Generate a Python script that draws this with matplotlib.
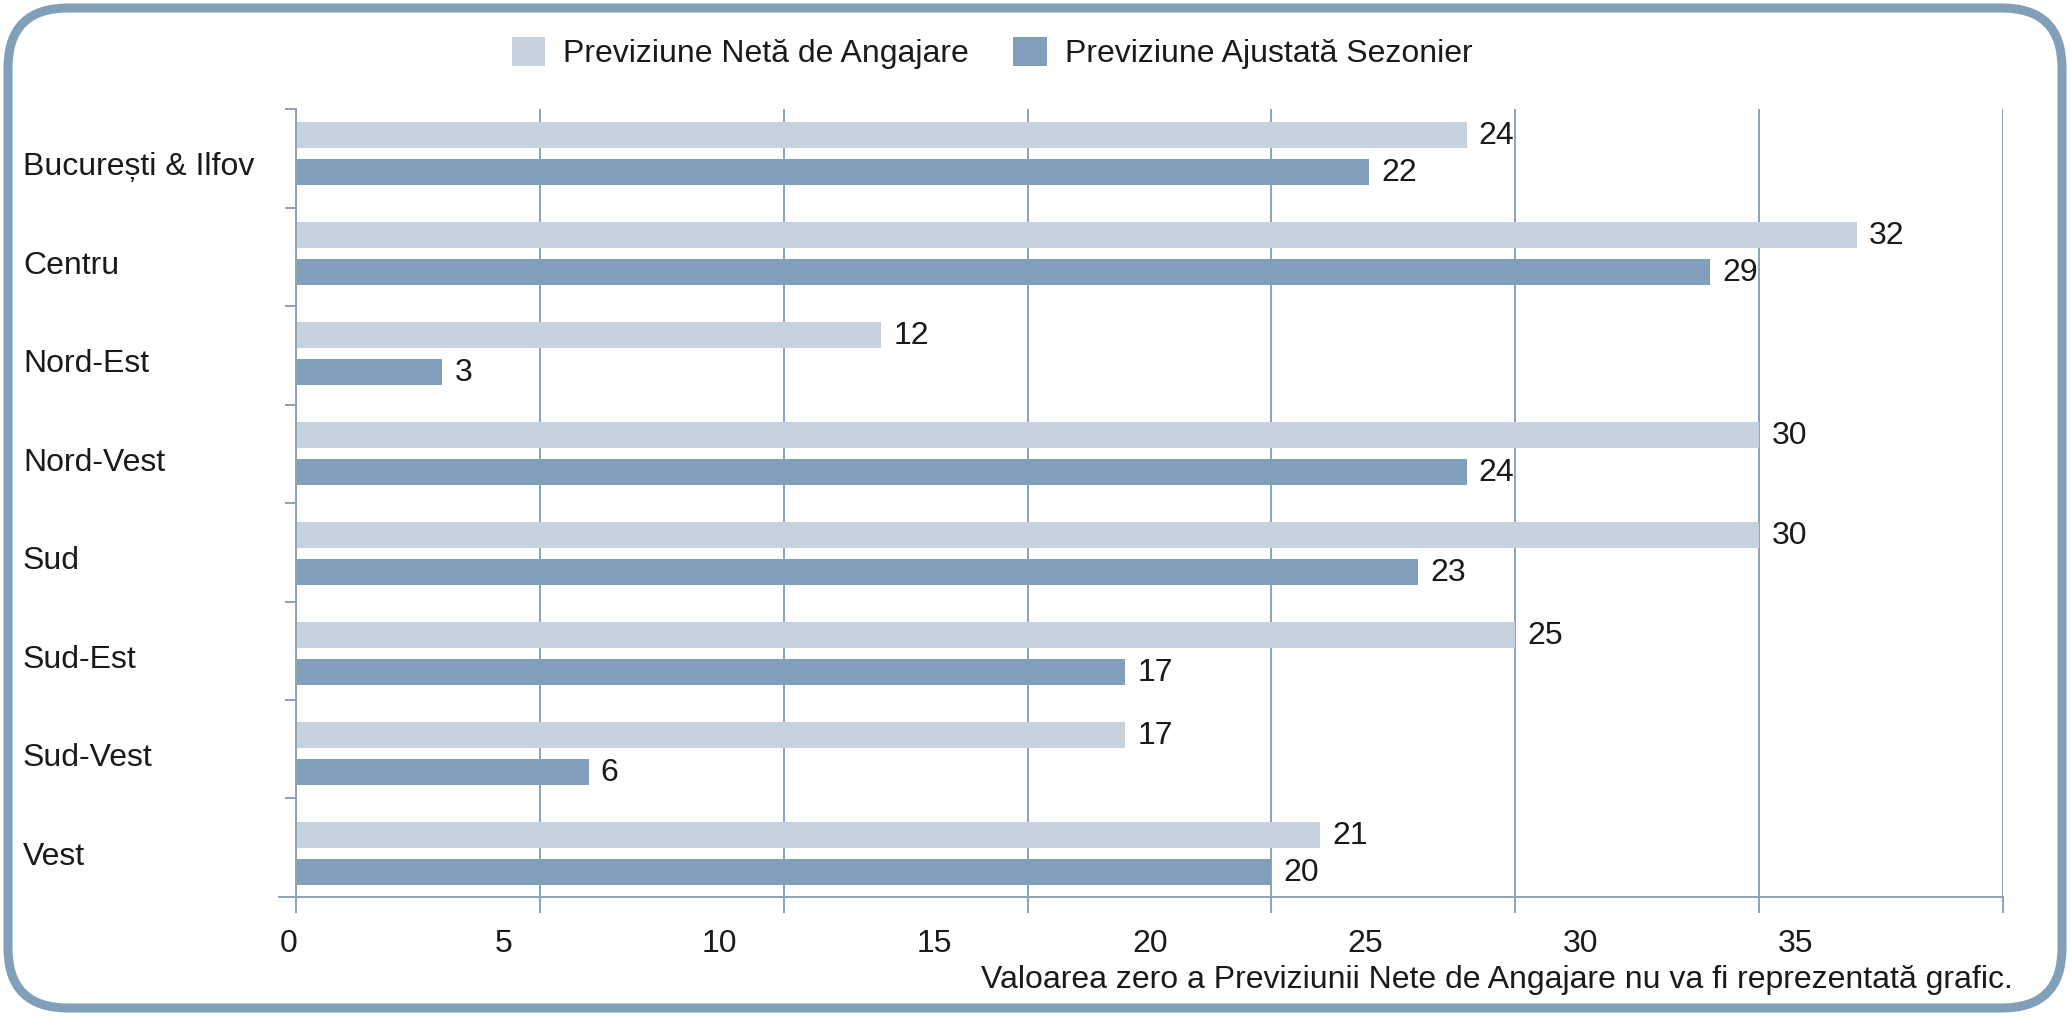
import numpy as np
import matplotlib
matplotlib.use("Agg")
import matplotlib.pyplot as plt
from matplotlib.patches import FancyBboxPatch, Patch
from matplotlib.transforms import blended_transform_factory

plt.rcParams["font.family"] = ["Liberation Sans", "DejaVu Sans"]

regions = ["București & Ilfov", "Centru", "Nord-Est", "Nord-Vest",
           "Sud", "Sud-Est", "Sud-Vest", "Vest"]
net_outlook = [24, 32, 12, 30, 30, 25, 17, 21]
adjusted_outlook = [22, 29, 3, 24, 23, 17, 6, 20]
x_ticks = [0, 5, 10, 15, 20, 25, 30, 35]
x_tick_labels = ["0", "5", "10", "15", "20", "25", "30", "35"]

legend_labels = ["Previziune Netă de Angajare", "Previziune Ajustată Sezonier"]
footnote = "Valoarea zero a Previziunii Nete de Angajare nu va fi reprezentată grafic."

LIGHT = "#c5d1dd"
DARK = "#7f9fba"
GRID = "#8ca2b7"
BORDER = "#819fb9"
TXT = "#1a1a1a"
FS = 23

W, H = 2070, 1016
fig = plt.figure(figsize=(W / 100, H / 100), dpi=100)

# rounded frame around everything
frame = FancyBboxPatch((0.08, 0.08), W / 100 - 0.16, H / 100 - 0.16,
                       boxstyle="round,pad=0,rounding_size=0.6",
                       transform=fig.dpi_scale_trans, fill=False,
                       edgecolor=BORDER, linewidth=6.5, zorder=0)
fig.patches.append(frame)

ax = fig.add_axes([296 / W, 1 - 897 / H, (2003 - 296) / W, (897 - 109) / H])

y = np.arange(len(regions))
bar_h = 0.26
ax.barh(y - 0.185, net_outlook, height=bar_h, color=LIGHT, zorder=2)
ax.barh(y + 0.185, adjusted_outlook, height=bar_h, color=DARK, zorder=2)

for yi, v in zip(y, net_outlook):
    ax.text(v + 0.25, yi - 0.175, str(v), va="center", ha="left",
            fontsize=FS, color=TXT)
for yi, v in zip(y, adjusted_outlook):
    ax.text(v + 0.25, yi + 0.195, str(v), va="center", ha="left",
            fontsize=FS, color=TXT)

y_top, y_bot = -0.445, 7.435
ax.set_ylim(y_bot, y_top)
ax.set_xlim(0, 35)

# category ticks sit between groups
cat_ticks = np.linspace(y_top, y_bot, len(regions) + 1)
ax.set_yticks(cat_ticks)
ax.set_yticklabels([])
ax.set_xticks(x_ticks)
ax.set_xticklabels([])
ax.tick_params(axis="y", direction="out", length=8, width=1.4, color=GRID)
ax.tick_params(axis="x", direction="out", length=11.5, width=1.4, color=GRID)

ax.grid(axis="x", color=GRID, linewidth=1.4, zorder=1)
for s in ["top", "right"]:
    ax.spines[s].set_visible(False)
for s in ["left", "bottom"]:
    ax.spines[s].set_color(GRID)
    ax.spines[s].set_linewidth(1.4)
# bottom axis line runs a little past the left spine
ax.plot([-0.35, 0], [y_bot, y_bot], color=GRID, linewidth=1.4,
        clip_on=False, zorder=3)

# category labels, left aligned near the frame
lab_tr = blended_transform_factory(fig.transFigure, ax.transData)
mids = (cat_ticks[:-1] + cat_ticks[1:]) / 2
for yc, name in zip(mids, regions):
    ax.text(23 / W, yc + 0.09, name, transform=lab_tr, ha="left",
            va="center", fontsize=FS, color=TXT)

# x tick labels (drawn with the slightly compressed spacing of the original)
tick_tr = blended_transform_factory(ax.transData, fig.transFigure)
for t, lab in zip(x_ticks, x_tick_labels):
    ax.text(0.883 * t - 0.15, 1 - 944 / H, lab, transform=tick_tr,
            ha="center", va="center", fontsize=FS, color=TXT)

fig.text(2013 / W, 1 - 980 / H, footnote, ha="right", va="center",
         fontsize=FS, color=TXT)

handles = [Patch(facecolor=LIGHT, edgecolor="none"),
           Patch(facecolor=DARK, edgecolor="none")]
fig.legend(handles, legend_labels, loc="center", ncol=2, frameon=False,
           bbox_to_anchor=(992 / W, 1 - 53 / H), fontsize=FS,
           handlelength=1.05, handleheight=1.05, handletextpad=0.55,
           columnspacing=1.4, labelcolor=TXT)

fig.savefig("out.png", dpi=100)
